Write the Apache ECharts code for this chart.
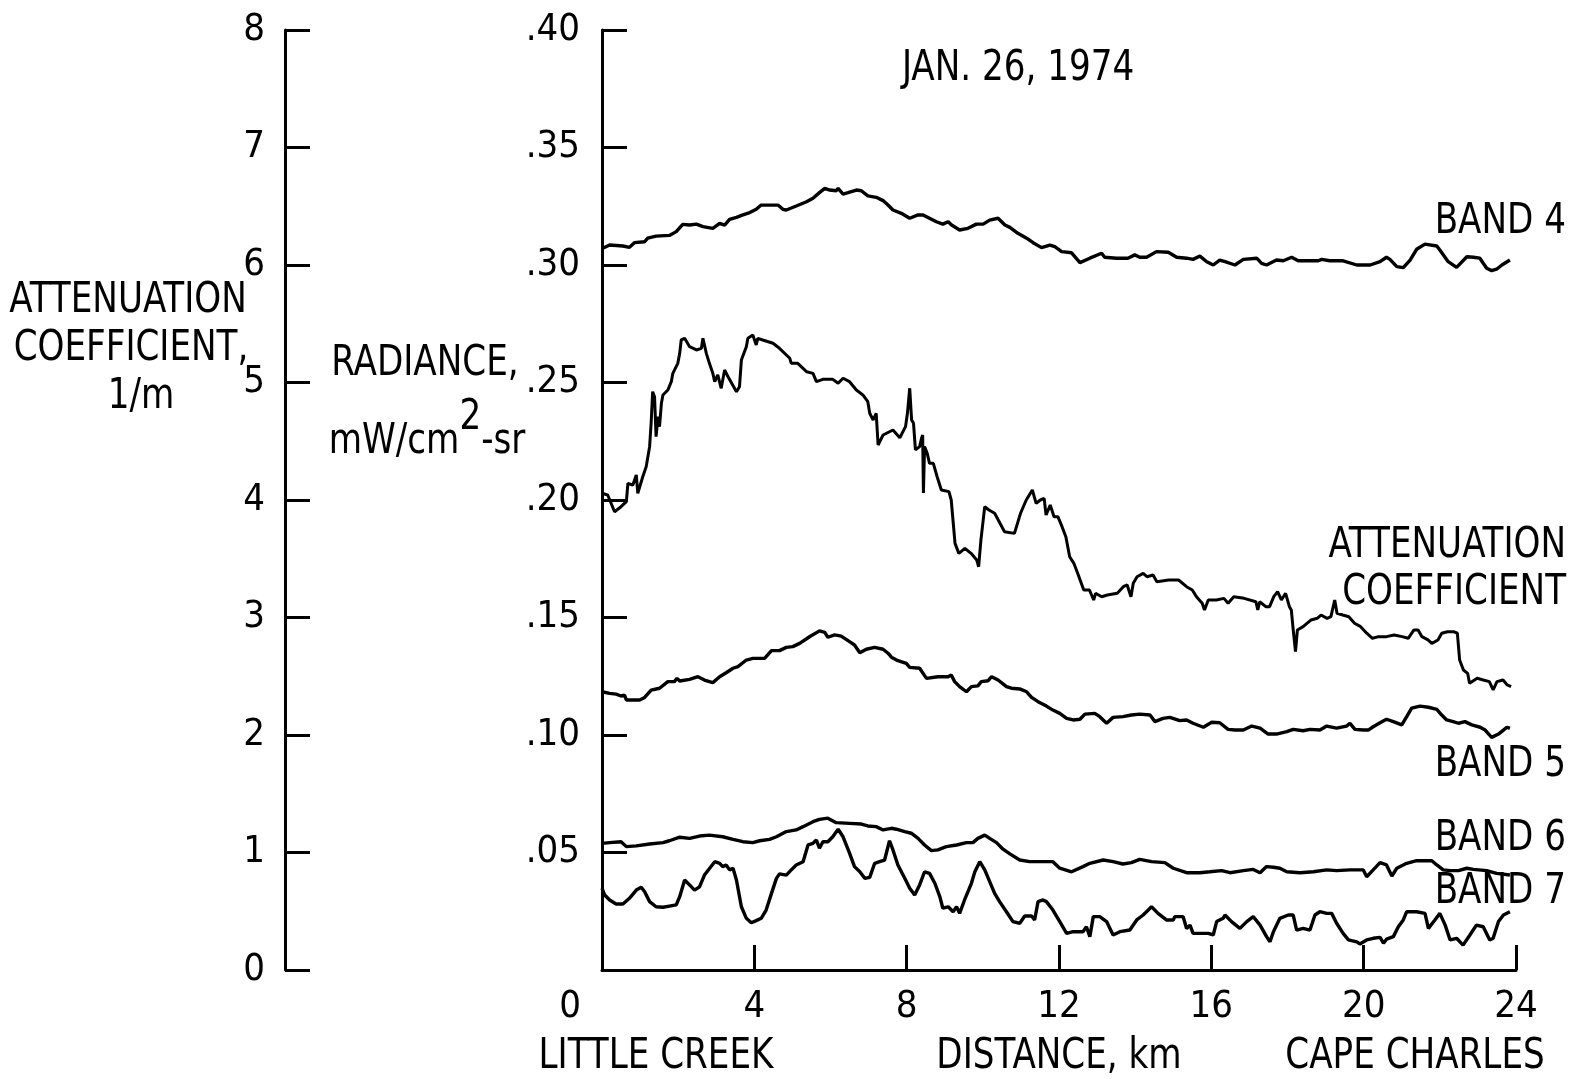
<!DOCTYPE html>
<html>
<head>
<meta charset="utf-8">
<script src="https://cdn.jsdelivr.net/npm/echarts@6/dist/echarts.min.js"></script>
<style>
html,body{margin:0;padding:0;background:#fff;}
#c{width:1576px;height:1079px;}
</style>
</head>
<body>
<div id="c"></div>
<script>
// ---- data (distance km, value) ----
const xTickLabels = ['0','4','8','12','16','20','24'];
const radianceTickLabels = ['', '.05', '.10', '.15', '.20', '.25', '.30', '.35', '.40'];
const attenuationTickLabels = ['0','1','2','3','4','5','6','7','8'];

const band4 = [[0.02,0.3071],[0.20,0.3085],[0.55,0.3081],[0.72,0.3075],[0.85,0.3095],[1.12,0.3099],[1.20,0.3114],[1.42,0.3123],[1.77,0.3126],[1.95,0.3142],[2.12,0.3173],[2.30,0.3170],[2.48,0.3174],[2.65,0.3163],[2.91,0.3156],[3.09,0.3177],[3.22,0.3170],[3.35,0.3194],[3.53,0.3203],[3.70,0.3213],[3.88,0.3223],[4.05,0.3237],[4.18,0.3255],[4.62,0.3255],[4.75,0.3237],[4.84,0.3234],[5.10,0.3251],[5.37,0.3269],[5.54,0.3284],[5.71,0.3308],[5.85,0.3326],[5.98,0.3319],[6.15,0.3316],[6.20,0.3326],[6.33,0.3302],[6.46,0.3308],[6.68,0.3319],[6.81,0.3316],[6.98,0.3294],[7.20,0.3288],[7.38,0.3274],[7.51,0.3255],[7.64,0.3234],[7.86,0.3220],[8.08,0.3199],[8.30,0.3213],[8.43,0.3213],[8.78,0.3184],[8.95,0.3174],[9.09,0.3184],[9.18,0.3170],[9.39,0.3149],[9.61,0.3156],[9.83,0.3174],[10.01,0.3174],[10.18,0.3191],[10.40,0.3199],[10.58,0.3170],[10.71,0.3160],[10.92,0.3135],[11.15,0.3114],[11.32,0.3095],[11.54,0.3074],[11.76,0.3085],[11.89,0.3078],[12.07,0.3057],[12.33,0.3052],[12.55,0.3010],[12.81,0.3029],[13.12,0.3050],[13.20,0.3033],[13.51,0.3029],[13.81,0.3029],[13.99,0.3043],[14.12,0.3033],[14.30,0.3033],[14.56,0.3057],[14.87,0.3054],[15.09,0.3033],[15.35,0.3029],[15.52,0.3024],[15.70,0.3038],[15.88,0.3014],[16.05,0.3000],[16.22,0.3021],[16.36,0.3014],[16.62,0.3000],[16.84,0.3024],[17.19,0.3029],[17.32,0.3007],[17.45,0.3000],[17.71,0.3021],[17.89,0.3018],[18.11,0.3033],[18.28,0.3018],[18.81,0.3018],[18.90,0.3024],[19.11,0.3018],[19.46,0.3018],[19.82,0.3000],[20.17,0.3000],[20.43,0.3014],[20.60,0.3033],[20.69,0.3024],[20.87,0.2993],[21.04,0.2989],[21.22,0.3021],[21.39,0.3067],[21.61,0.3089],[21.92,0.3081],[22.00,0.3064],[22.22,0.3014],[22.44,0.2990],[22.71,0.3035],[22.88,0.3033],[23.05,0.3029],[23.23,0.2986],[23.36,0.2976],[23.49,0.2982],[23.63,0.3000],[23.84,0.3021]];

const attenuation = [[0.00,4.057],[0.15,4.043],[0.33,3.900],[0.50,3.943],[0.64,3.986],[0.68,4.142],[0.81,4.128],[0.90,4.213],[0.94,4.057],[0.99,4.043],[1.07,4.198],[1.16,4.283],[1.25,4.454],[1.29,4.653],[1.33,4.922],[1.38,4.879],[1.42,4.539],[1.47,4.709],[1.51,4.624],[1.56,4.823],[1.60,4.894],[1.73,4.936],[1.82,5.007],[1.86,5.078],[1.99,5.163],[2.04,5.248],[2.08,5.362],[2.17,5.376],[2.30,5.305],[2.48,5.277],[2.61,5.291],[2.65,5.376],[2.69,5.390],[2.74,5.248],[2.82,5.163],[2.91,5.078],[2.96,5.007],[3.04,5.064],[3.13,4.951],[3.22,5.106],[3.31,5.049],[3.53,4.922],[3.61,4.964],[3.66,5.191],[3.79,5.305],[3.83,5.376],[3.96,5.404],[4.05,5.319],[4.09,5.376],[4.22,5.362],[4.49,5.334],[4.66,5.291],[4.93,5.206],[4.97,5.163],[5.14,5.163],[5.37,5.092],[5.54,5.078],[5.63,5.007],[5.80,5.027],[6.06,5.027],[6.20,4.993],[6.33,5.036],[6.50,5.007],[6.68,4.936],[6.85,4.894],[6.98,4.837],[7.03,4.738],[7.12,4.681],[7.20,4.738],[7.25,4.468],[7.38,4.553],[7.64,4.596],[7.82,4.530],[7.97,4.624],[8.02,4.738],[8.08,4.951],[8.13,4.681],[8.18,4.653],[8.23,4.426],[8.34,4.454],[8.39,4.525],[8.42,4.553],[8.44,4.060],[8.47,4.454],[8.54,4.397],[8.60,4.312],[8.70,4.312],[8.80,4.198],[8.91,4.085],[9.11,4.071],[9.17,4.000],[9.27,3.631],[9.37,3.546],[9.53,3.589],[9.69,3.546],[9.84,3.489],[9.89,3.432],[9.95,3.660],[10.05,3.943],[10.16,3.915],[10.31,3.887],[10.57,3.730],[10.83,3.716],[10.99,3.887],[11.14,4.000],[11.30,4.085],[11.40,3.972],[11.51,4.000],[11.61,4.014],[11.66,3.872],[11.77,3.957],[11.87,3.858],[11.97,3.858],[12.08,3.773],[12.18,3.688],[12.28,3.517],[12.39,3.461],[12.49,3.376],[12.65,3.234],[12.80,3.234],[12.91,3.149],[12.96,3.206],[13.12,3.177],[13.27,3.191],[13.53,3.206],[13.69,3.262],[13.79,3.277],[13.89,3.177],[13.95,3.291],[14.05,3.347],[14.21,3.376],[14.31,3.347],[14.47,3.362],[14.57,3.305],[14.88,3.319],[15.04,3.319],[15.14,3.319],[15.35,3.262],[15.50,3.234],[15.61,3.177],[15.76,3.121],[15.82,3.064],[15.92,3.149],[16.13,3.149],[16.33,3.163],[16.44,3.121],[16.59,3.177],[16.86,3.163],[17.17,3.134],[17.22,3.064],[17.27,3.134],[17.43,3.092],[17.53,3.092],[17.64,3.177],[17.74,3.220],[17.84,3.149],[17.95,3.206],[18.05,3.092],[18.10,3.064],[18.15,2.894],[18.21,2.709],[18.26,2.894],[18.41,2.922],[18.62,2.979],[18.78,2.993],[18.88,3.021],[19.04,2.993],[19.14,3.007],[19.24,3.149],[19.30,3.036],[19.45,3.021],[19.61,3.007],[19.76,2.951],[19.92,2.922],[20.08,2.866],[20.23,2.823],[20.39,2.837],[20.60,2.837],[20.80,2.851],[21.01,2.837],[21.17,2.823],[21.32,2.894],[21.43,2.894],[21.53,2.837],[21.69,2.809],[21.79,2.780],[21.95,2.809],[22.05,2.866],[22.20,2.879],[22.36,2.879],[22.46,2.866],[22.52,2.638],[22.62,2.553],[22.73,2.525],[22.78,2.440],[22.98,2.483],[23.14,2.468],[23.30,2.454],[23.40,2.383],[23.50,2.454],[23.66,2.468],[23.77,2.426],[23.87,2.411]];

const band5 = [[0.00,0.1184],[0.20,0.1177],[0.37,0.1174],[0.50,0.1166],[0.59,0.1170],[0.64,0.1149],[0.99,0.1149],[1.12,0.1160],[1.29,0.1191],[1.51,0.1199],[1.73,0.1227],[1.90,0.1227],[1.97,0.1241],[2.04,0.1230],[2.30,0.1237],[2.52,0.1248],[2.69,0.1234],[2.91,0.1223],[3.09,0.1248],[3.26,0.1265],[3.44,0.1284],[3.57,0.1291],[3.79,0.1319],[3.96,0.1326],[4.27,0.1326],[4.45,0.1359],[4.66,0.1359],[4.84,0.1373],[5.01,0.1376],[5.19,0.1390],[5.45,0.1418],[5.71,0.1443],[5.85,0.1437],[5.93,0.1416],[6.11,0.1426],[6.28,0.1421],[6.50,0.1397],[6.63,0.1383],[6.77,0.1350],[6.94,0.1365],[7.16,0.1373],[7.20,0.1379],[7.38,0.1365],[7.51,0.1348],[7.60,0.1331],[7.77,0.1316],[7.99,0.1305],[8.08,0.1288],[8.34,0.1284],[8.52,0.1241],[8.82,0.1248],[9.09,0.1248],[9.17,0.1255],[9.26,0.1227],[9.39,0.1206],[9.57,0.1184],[9.70,0.1206],[9.87,0.1209],[9.96,0.1227],[10.14,0.1231],[10.23,0.1248],[10.40,0.1234],[10.62,0.1206],[10.75,0.1199],[10.97,0.1196],[11.15,0.1184],[11.28,0.1160],[11.45,0.1142],[11.67,0.1123],[11.84,0.1106],[12.02,0.1092],[12.20,0.1071],[12.37,0.1064],[12.55,0.1067],[12.68,0.1089],[12.94,0.1092],[13.07,0.1078],[13.25,0.1050],[13.42,0.1075],[13.68,0.1078],[13.90,0.1085],[14.12,0.1089],[14.39,0.1085],[14.52,0.1057],[14.73,0.1071],[14.91,0.1075],[15.17,0.1061],[15.35,0.1064],[15.52,0.1050],[15.79,0.1033],[16.01,0.1054],[16.22,0.1052],[16.44,0.1024],[16.62,0.1021],[16.84,0.1021],[17.06,0.1038],[17.28,0.1029],[17.49,0.1004],[17.71,0.1004],[17.98,0.1014],[18.15,0.1024],[18.41,0.1018],[18.59,0.1024],[18.85,0.1021],[19.03,0.1038],[19.29,0.1029],[19.55,0.1038],[19.64,0.1050],[19.77,0.1024],[19.99,0.1021],[20.12,0.1021],[20.25,0.1035],[20.43,0.1052],[20.60,0.1067],[20.78,0.1057],[21.00,0.1043],[21.13,0.1078],[21.26,0.1114],[21.48,0.1123],[21.70,0.1118],[21.92,0.1109],[22.05,0.1085],[22.18,0.1064],[22.35,0.1057],[22.49,0.1050],[22.66,0.1057],[22.84,0.1043],[23.06,0.1033],[23.19,0.1021],[23.36,0.0990],[23.54,0.1004],[23.67,0.1021],[23.76,0.1033],[23.84,0.1028]];

const band6 = [[0.00,0.0539],[0.20,0.0542],[0.50,0.0546],[0.64,0.0525],[0.90,0.0528],[1.25,0.0536],[1.60,0.0542],[1.77,0.0550],[2.04,0.0565],[2.30,0.0560],[2.56,0.0570],[2.82,0.0574],[3.17,0.0567],[3.44,0.0556],[3.70,0.0546],[3.96,0.0542],[4.14,0.0550],[4.40,0.0556],[4.58,0.0567],[4.84,0.0589],[5.10,0.0596],[5.28,0.0610],[5.54,0.0631],[5.71,0.0641],[5.93,0.0646],[6.15,0.0627],[6.50,0.0624],[6.81,0.0621],[6.98,0.0613],[7.20,0.0610],[7.38,0.0596],[7.60,0.0603],[7.73,0.0599],[7.95,0.0589],[8.12,0.0582],[8.30,0.0560],[8.47,0.0532],[8.65,0.0508],[8.82,0.0511],[9.04,0.0525],[9.31,0.0532],[9.57,0.0542],[9.74,0.0542],[9.87,0.0560],[10.05,0.0574],[10.18,0.0560],[10.36,0.0542],[10.53,0.0514],[10.71,0.0494],[10.97,0.0468],[11.23,0.0461],[11.50,0.0461],[11.84,0.0461],[12.02,0.0433],[12.33,0.0418],[12.63,0.0440],[12.81,0.0454],[13.16,0.0468],[13.42,0.0461],[13.68,0.0451],[13.90,0.0457],[14.12,0.0471],[14.43,0.0461],[14.78,0.0457],[15.00,0.0433],[15.35,0.0414],[15.70,0.0414],[15.96,0.0418],[16.27,0.0423],[16.49,0.0414],[16.84,0.0423],[17.10,0.0428],[17.28,0.0414],[17.45,0.0440],[17.63,0.0437],[17.80,0.0433],[17.98,0.0418],[18.33,0.0414],[18.68,0.0418],[19.03,0.0426],[19.29,0.0423],[19.64,0.0426],[19.99,0.0426],[20.08,0.0397],[20.25,0.0426],[20.43,0.0457],[20.60,0.0447],[20.74,0.0400],[20.87,0.0433],[21.13,0.0454],[21.39,0.0465],[21.79,0.0465],[21.92,0.0447],[22.09,0.0426],[22.27,0.0423],[22.49,0.0423],[22.71,0.0433],[22.88,0.0428],[23.23,0.0423],[23.49,0.0411],[23.84,0.0404]];

const band7 = [[0.00,0.0348],[0.07,0.0319],[0.20,0.0298],[0.37,0.0281],[0.55,0.0281],[0.72,0.0305],[0.90,0.0340],[1.03,0.0352],[1.12,0.0333],[1.25,0.0291],[1.42,0.0269],[1.60,0.0267],[1.77,0.0272],[1.95,0.0277],[2.04,0.0312],[2.17,0.0383],[2.30,0.0362],[2.43,0.0340],[2.56,0.0354],[2.69,0.0404],[2.96,0.0461],[3.09,0.0454],[3.17,0.0440],[3.26,0.0447],[3.35,0.0426],[3.44,0.0433],[3.53,0.0383],[3.66,0.0269],[3.79,0.0220],[3.92,0.0201],[4.05,0.0210],[4.18,0.0220],[4.31,0.0255],[4.45,0.0326],[4.58,0.0390],[4.66,0.0409],[4.84,0.0404],[4.97,0.0426],[5.10,0.0447],[5.28,0.0461],[5.41,0.0532],[5.54,0.0539],[5.63,0.0553],[5.71,0.0518],[5.80,0.0546],[5.93,0.0546],[6.06,0.0567],[6.20,0.0599],[6.33,0.0567],[6.50,0.0497],[6.63,0.0440],[6.77,0.0418],[6.90,0.0390],[7.03,0.0394],[7.16,0.0454],[7.29,0.0461],[7.42,0.0468],[7.55,0.0550],[7.64,0.0511],[7.77,0.0447],[7.95,0.0390],[8.08,0.0348],[8.21,0.0319],[8.34,0.0362],[8.47,0.0418],[8.60,0.0411],[8.74,0.0369],[8.87,0.0312],[8.95,0.0263],[9.09,0.0269],[9.22,0.0248],[9.31,0.0269],[9.39,0.0241],[9.52,0.0298],[9.70,0.0369],[9.79,0.0418],[9.92,0.0461],[10.05,0.0426],[10.18,0.0376],[10.31,0.0326],[10.44,0.0291],[10.62,0.0248],[10.79,0.0206],[10.97,0.0199],[11.10,0.0230],[11.28,0.0230],[11.36,0.0213],[11.45,0.0291],[11.58,0.0298],[11.67,0.0291],[11.84,0.0255],[12.02,0.0206],[12.20,0.0156],[12.37,0.0163],[12.63,0.0163],[12.72,0.0184],[12.81,0.0142],[12.90,0.0227],[13.07,0.0227],[13.25,0.0206],[13.42,0.0149],[13.60,0.0163],[13.86,0.0170],[14.04,0.0213],[14.21,0.0234],[14.43,0.0269],[14.60,0.0241],[14.82,0.0213],[15.00,0.0213],[15.04,0.0227],[15.26,0.0227],[15.35,0.0177],[15.44,0.0191],[15.52,0.0156],[15.70,0.0156],[15.92,0.0156],[16.05,0.0149],[16.14,0.0206],[16.31,0.0220],[16.36,0.0234],[16.53,0.0206],[16.75,0.0177],[16.93,0.0206],[17.10,0.0227],[17.28,0.0191],[17.45,0.0142],[17.54,0.0120],[17.63,0.0163],[17.80,0.0220],[18.02,0.0234],[18.15,0.0234],[18.24,0.0170],[18.41,0.0177],[18.59,0.0170],[18.72,0.0234],[18.85,0.0248],[19.03,0.0241],[19.16,0.0241],[19.29,0.0199],[19.46,0.0156],[19.60,0.0128],[19.82,0.0120],[19.90,0.0111],[20.08,0.0128],[20.25,0.0135],[20.43,0.0139],[20.52,0.0114],[20.60,0.0131],[20.78,0.0142],[20.91,0.0184],[21.04,0.0213],[21.13,0.0248],[21.39,0.0248],[21.61,0.0241],[21.70,0.0177],[21.87,0.0213],[22.00,0.0241],[22.14,0.0191],[22.27,0.0128],[22.44,0.0135],[22.61,0.0106],[22.79,0.0149],[22.96,0.0191],[23.14,0.0184],[23.31,0.0128],[23.40,0.0135],[23.54,0.0206],[23.67,0.0234],[23.84,0.0248]];

// ---- styling ----
const FAM = "'DejaVu Sans Condensed','Liberation Sans Narrow',sans-serif";
const FS = 38;
const INK = '#000';

function txt(text, x, y, align) {
  return {
    type: 'text', silent: true, x: x, y: y, scaleY: 1.12,
    style: {
      text: text, x: 0, y: 0, fill: INK,
      font: FS + 'px ' + FAM,
      align: align || 'center', verticalAlign: 'middle',
      textAlign: align || 'center', textVerticalAlign: 'middle'
    }
  };
}

const axisLineStyle = { show: true, lineStyle: { color: INK, width: 3 } };
const axisTickStyle = { show: true, inside: true, length: 25, lineStyle: { color: INK, width: 3 } };

const chart = echarts.init(document.getElementById('c'), null, { renderer: 'canvas' });

const option = {
  backgroundColor: '#ffffff',
  animation: false,
  grid: { left: 602, right: 60, top: 30, bottom: 109, containLabel: false },
  xAxis: {
    type: 'value', min: 0, max: 24, interval: 4,
    axisLine: axisLineStyle,
    axisTick: axisTickStyle,
    splitLine: { show: false },
    axisLabel: {
      color: INK, fontSize: FS, fontFamily: FAM, margin: 18,
      formatter: function (v) {
        const i = Math.round(v / 4);
        return i === 0 ? '{z|' + xTickLabels[0] + '}' : xTickLabels[i];
      },
      rich: { z: { fontSize: FS, fontFamily: FAM, color: INK, padding: [0, 64, 0, 0] } }
    }
  },
  yAxis: [
    {
      type: 'value', position: 'left', offset: 0, min: 0, max: 0.4, interval: 0.05,
      axisLine: axisLineStyle, axisTick: axisTickStyle, splitLine: { show: false },
      axisLabel: {
        color: INK, fontSize: FS, fontFamily: FAM, margin: 22,
        formatter: function (v) { return radianceTickLabels[Math.round(v / 0.05)]; }
      }
    },
    {
      type: 'value', position: 'left', offset: 317, min: 0, max: 8, interval: 1,
      axisLine: axisLineStyle, axisTick: axisTickStyle, splitLine: { show: false },
      axisLabel: {
        color: INK, fontSize: FS, fontFamily: FAM, margin: 20,
        formatter: function (v) { return attenuationTickLabels[Math.round(v)]; }
      }
    }
  ],
  series: [
    { name: 'BAND 4', type: 'line', yAxisIndex: 0, data: band4, showSymbol: false, lineStyle: { color: INK, width: 3.4 } },
    { name: 'ATTENUATION COEFFICIENT', type: 'line', yAxisIndex: 1, data: attenuation, showSymbol: false, lineStyle: { color: INK, width: 3 } },
    { name: 'BAND 5', type: 'line', yAxisIndex: 0, data: band5, showSymbol: false, lineStyle: { color: INK, width: 3.4 } },
    { name: 'BAND 6', type: 'line', yAxisIndex: 0, data: band6, showSymbol: false, lineStyle: { color: INK, width: 3.4 } },
    { name: 'BAND 7', type: 'line', yAxisIndex: 0, data: band7, showSymbol: false, lineStyle: { color: INK, width: 3.4 } }
  ],
  graphic: [
    txt('JAN. 26, 1974', 1018, 69),
    txt('ATTENUATION', 128, 301),
    txt('COEFFICIENT,', 131, 349),
    txt('1/m', 141, 397),
    txt('RADIANCE,', 425, 364),
    {
      type: 'text', silent: true, x: 427, y: 430, scaleY: 1.12,
      style: {
        text: '{b|mW/cm}{s|2}{b|-sr}',
        x: 0, y: 0, fill: INK,
        font: FS + 'px ' + FAM,
        align: 'center', verticalAlign: 'middle',
        textAlign: 'center', textVerticalAlign: 'middle',
        rich: {
          b: { fontSize: FS, fontFamily: FAM, fill: INK, lineHeight: 60, verticalAlign: 'bottom' },
          s: { fontSize: FS, fontFamily: FAM, fill: INK, lineHeight: 38, verticalAlign: 'top' }
        }
      }
    },
    txt('BAND 4', 1566, 222, 'right'),
    txt('ATTENUATION', 1566, 546, 'right'),
    txt('COEFFICIENT', 1566, 593, 'right'),
    txt('BAND 5', 1566, 765, 'right'),
    txt('BAND 6', 1566, 839, 'right'),
    txt('BAND 7', 1566, 892, 'right'),
    txt('LITTLE CREEK', 656, 1057),
    txt('DISTANCE, km', 1059, 1057),
    txt('CAPE CHARLES', 1415, 1057)
  ]
};
chart.setOption(option);
</script>
</body>
</html>
